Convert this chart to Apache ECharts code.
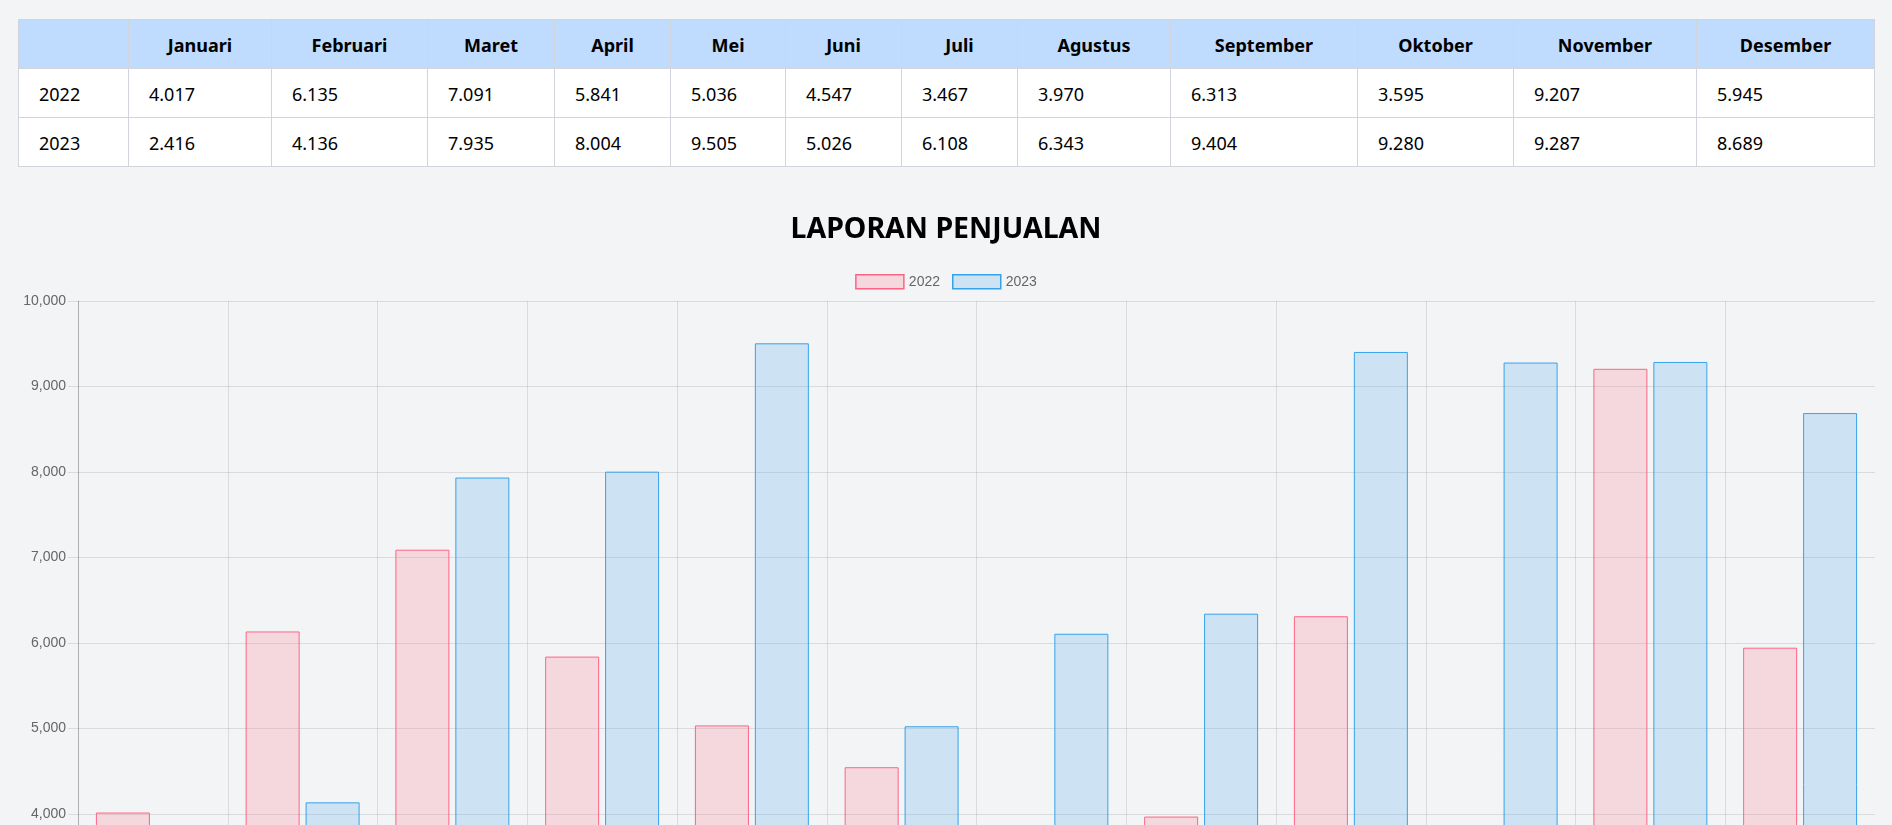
<!DOCTYPE html>
<html>
<head>
<meta charset="utf-8">
<script src="https://cdn.jsdelivr.net/npm/echarts@6/dist/echarts.min.js"></script>
<style>
  html, body { margin: 0; padding: 0; background: #f3f4f6; overflow: hidden; width: 1892px; height: 825px; }
  #tbl { position: absolute; left: 18px; top: 19px; border-collapse: collapse; table-layout: fixed; width: 1856px;
         font-family: "Noto Sans", "Open Sans", sans-serif; font-size: 18px; color: #000; }
  #tbl th, #tbl td { border: 1px solid #d1d5db; padding: 12px 20px; line-height: 24px; height: 24px; white-space: nowrap; overflow: hidden; }
  #tbl th { background: #bfdbfe; font-weight: 700; text-align: center; padding-top: 13px; padding-bottom: 11px; }
  #tbl td { background: #ffffff; text-align: left; font-weight: 400; padding-top: 13px; padding-bottom: 11px; }
  #chart { position: absolute; left: 0; top: 170px; width: 1892px; height: 1030px; }
</style>
</head>
<body>
<table id="tbl"><colgroup id="cols"></colgroup><thead><tr id="head"></tr></thead><tbody id="body"></tbody></table>
<div id="chart"></div>
<script>
const months = ["Januari","Februari","Maret","April","Mei","Juni","Juli","Agustus","September","Oktober","November","Desember"];
const years = ["2022","2023"];
const sales2022 = [4017, 6135, 7091, 5841, 5036, 4547, 3467, 3970, 6313, 3595, 9207, 5945];
const sales2023 = [2416, 4136, 7935, 8004, 9505, 5026, 6108, 6343, 9404, 9280, 9287, 8689];
const yTicks = [0, 1000, 2000, 3000, 4000, 5000, 6000, 7000, 8000, 9000, 10000];

const colWidths = [110, 143, 156, 127, 116, 115, 116, 116, 153, 187, 156, 183, 178];

function fmtID(v) { return String(v).replace(/\B(?=(\d{3})+(?!\d))/g, "."); }
function fmtEN(v) { return String(v).replace(/\B(?=(\d{3})+(?!\d))/g, ","); }

// table
const cols = document.getElementById("cols");
colWidths.forEach(w => { const c = document.createElement("col"); c.style.width = w + "px"; cols.appendChild(c); });
const head = document.getElementById("head");
head.appendChild(document.createElement("th"));
months.forEach(m => { const th = document.createElement("th"); th.textContent = m; head.appendChild(th); });
const tbody = document.getElementById("body");
[sales2022, sales2023].forEach((arr, i) => {
  const tr = document.createElement("tr");
  const td0 = document.createElement("td"); td0.textContent = years[i]; tr.appendChild(td0);
  arr.forEach(v => { const td = document.createElement("td"); td.textContent = fmtID(v); tr.appendChild(td); });
  tbody.appendChild(tr);
});

// chart
const chart = echarts.init(document.getElementById("chart"), null, { renderer: "canvas" });
const gridColor = "rgba(0,0,0,0.1)";
const pinkFill = "rgba(255,99,132,0.2)", pinkLine = "rgb(255,99,132)";
const blueFill = "rgba(54,162,235,0.2)", blueLine = "rgb(54,162,235)";
chart.setOption({
  animation: false,
  title: {
    text: "LAPORAN PENJUALAN",
    left: "center",
    top: 45,
    padding: 0,
    textStyle: { fontFamily: "Noto Sans", fontWeight: "bold", fontSize: 28.5, color: "#000" }
  },
  legend: {
    top: 99,
    left: "center",
    itemWidth: 48,
    itemHeight: 14,
    itemGap: 12,
    icon: "rect",
    textStyle: { color: "#666", fontSize: 14, fontFamily: "Liberation Sans, Arial, sans-serif" },
    data: [
      { name: years[0], itemStyle: { color: pinkFill, borderColor: pinkLine, borderWidth: 1.5 } },
      { name: years[1], itemStyle: { color: blueFill, borderColor: blueLine, borderWidth: 1.5 } }
    ]
  },
  grid: { left: 78, right: 17, top: 131, bottom: 44, containLabel: false },
  xAxis: {
    type: "category",
    data: months,
    axisLine: { show: true, lineStyle: { color: "rgba(0,0,0,0.2)" } },
    axisTick: { show: true, length: 10, lineStyle: { color: gridColor } },
    axisLabel: { color: "#666", fontSize: 14, fontFamily: "Liberation Sans, Arial, sans-serif" },
    splitLine: { show: true, showMaxLine: false, lineStyle: { color: gridColor, width: 1 } }
  },
  yAxis: {
    type: "value",
    min: yTicks[0],
    max: yTicks[yTicks.length - 1],
    interval: yTicks[1] - yTicks[0],
    axisLine: { show: true, lineStyle: { color: "rgba(0,0,0,0.2)" } },
    axisTick: { show: true, length: 10, lineStyle: { color: gridColor } },
    axisLabel: { color: "#666", fontSize: 14, margin: 12, fontFamily: "Liberation Sans, Arial, sans-serif",
                 formatter: v => fmtEN(v) },
    splitLine: { show: true, lineStyle: { color: gridColor, width: 1 } }
  },
  series: [
    { name: years[0], type: "bar", data: sales2022, barWidth: 54, barGap: "11%",
      itemStyle: { color: pinkFill, borderColor: pinkLine, borderWidth: 1 } },
    { name: years[1], type: "bar", data: sales2023, barWidth: 54, barGap: "11%",
      itemStyle: { color: blueFill, borderColor: blueLine, borderWidth: 1 } }
  ]
});
</script>
</body>
</html>
